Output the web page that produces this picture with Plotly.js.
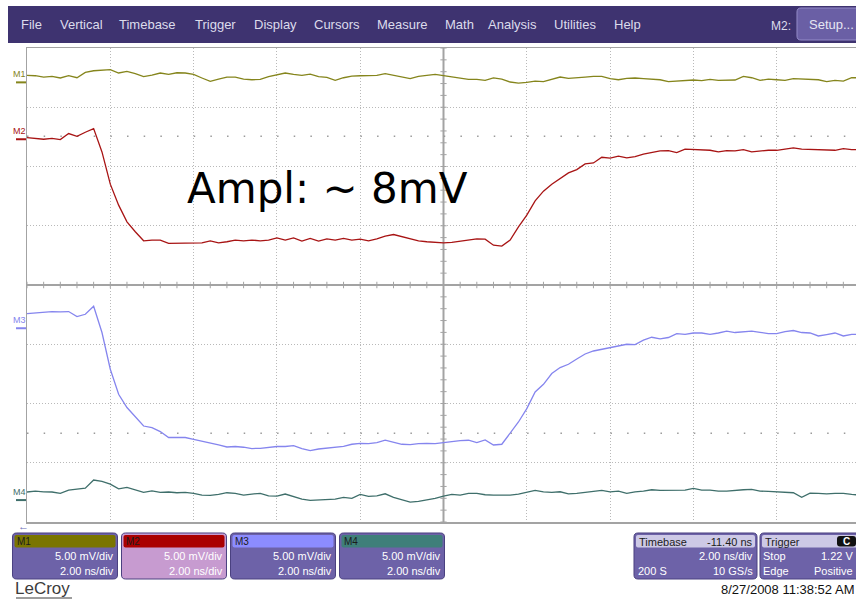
<!DOCTYPE html>
<html>
<head>
<meta charset="utf-8">
<script src="https://cdn.plot.ly/plotly-3.0.1.min.js"></script>
<style>
  html, body { margin: 0; padding: 0; background: #ffffff; }
  #chart { width: 856px; height: 600px; }
</style>
</head>
<body>
<div id="chart"></div>
<script>
// ---------------- DATA ----------------
// sample times, ns from the left edge of the screen (2 ns/div)
const times = [0,0.2,0.4,0.6,0.8,1,1.2,1.4,1.6,1.8,2,2.2,2.4,2.6,2.8,3,3.2,3.4,3.6,3.8,
  4,4.2,4.4,4.6,4.8,5,5.2,5.4,5.6,5.8,6,6.2,6.4,6.6,6.8,7,7.2,7.4,7.6,7.8,
  8,8.2,8.4,8.6,8.8,9,9.2,9.4,9.6,9.8,10,10.2,10.4,10.6,10.8,11,11.2,11.4,11.6,11.8,
  12,12.2,12.4,12.6,12.8,13,13.2,13.4,13.6,13.8,14,14.2,14.4,14.6,14.8,15,15.2,15.4,15.6,15.8,
  16,16.2,16.4,16.6,16.8,17,17.2,17.4,17.6,17.8,18,18.2,18.4,18.6,18.8,19,19.2,19.4,19.6,19.8,20];

// trace values in mV, relative to each trace's offset marker
const m1 = [0.59,0.56,0.45,0.51,0.37,0.56,0.39,0.84,0.98,1.01,
  1.07,0.79,0.93,0.73,0.48,0.62,0.79,0.67,0.81,0.79,
  0.67,0.37,0.08,0.28,0.45,0.45,0.28,0.22,0.25,0.48,
  0.62,0.79,0.67,0.59,0.70,0.48,0.42,0.17,0.39,0.53,
  0.56,0.59,0.59,0.73,0.59,0.45,0.31,0.51,0.56,0.67,
  0.56,0.45,0.31,0.25,0.25,0.17,0.37,0.28,0.03,-0.06,
  0.00,0.11,0.06,0.28,0.45,0.34,0.42,0.45,0.51,0.51,
  0.31,0.22,0.34,0.37,0.31,0.25,0.22,0.06,0.11,0.11,
  0.20,0.14,0.25,0.17,0.17,0.20,0.51,0.39,0.17,0.28,
  0.22,0.17,0.31,0.28,0.31,0.22,0.06,0.17,0.11,0.39,0.39];

const m2 = [0.14,0.06,0.00,0.08,-0.03,0.48,0.25,0.59,0.90,-1.07,
  -3.79,-5.56,-6.97,-7.81,-8.57,-8.51,-8.51,-8.79,-8.79,-8.74,
  -8.74,-8.74,-8.57,-8.74,-8.65,-8.51,-8.57,-8.51,-8.57,-8.51,
  -8.32,-8.51,-8.32,-8.60,-8.37,-8.60,-8.40,-8.51,-8.37,-8.51,
  -8.43,-8.57,-8.40,-8.18,-8.04,-8.23,-8.37,-8.57,-8.65,-8.71,
  -8.74,-8.71,-8.60,-8.54,-8.40,-8.43,-8.94,-9.02,-8.51,-7.39,
  -6.41,-5.20,-4.38,-3.79,-3.32,-2.84,-2.56,-2.08,-2.00,-1.52,
  -1.60,-1.43,-1.57,-1.46,-1.26,-1.10,-0.98,-0.96,-1.12,-0.84,
  -0.87,-0.93,-0.93,-1.07,-0.96,-0.98,-0.87,-1.07,-0.98,-0.93,
  -0.93,-0.84,-0.73,-0.84,-0.87,-0.87,-0.96,-0.93,-0.79,-0.87,-0.87];

const m3 = [1.24,1.29,1.35,1.41,1.38,1.41,0.99,1.18,1.86,-0.36,
  -3.46,-5.57,-6.69,-7.49,-8.25,-8.38,-8.72,-9.22,-9.20,-9.22,
  -9.37,-9.51,-9.65,-9.85,-10.02,-9.98,-10.04,-10.15,-10.13,-10.04,
  -9.98,-9.98,-9.90,-10.15,-10.32,-10.19,-10.10,-10.04,-9.96,-9.79,
  -9.71,-9.73,-9.65,-9.45,-9.62,-9.79,-9.82,-9.73,-9.71,-9.73,
  -9.65,-9.56,-9.48,-9.45,-9.65,-9.43,-9.85,-9.79,-8.84,-7.91,
  -6.78,-5.38,-4.73,-3.82,-3.32,-3.04,-2.59,-2.17,-1.92,-1.77,
  -1.66,-1.46,-1.35,-1.38,-1.01,-0.76,-0.90,-0.78,-0.45,-0.51,
  -0.40,-0.40,-0.51,-0.40,-0.25,-0.36,-0.31,-0.25,-0.34,-0.45,
  -0.45,-0.28,-0.19,-0.36,-0.40,-0.65,-0.53,-0.40,-0.65,-0.51,-0.53];

const m4 = [0.68,0.76,0.70,0.68,0.57,0.84,0.93,1.01,1.69,1.58,
  1.35,0.95,1.07,0.84,0.65,0.78,0.65,0.68,0.62,0.65,
  0.57,0.42,0.40,0.48,0.62,0.57,0.42,0.51,0.57,0.36,
  0.34,0.51,0.28,0.08,-0.03,0.00,0.08,0.08,0.23,0.14,
  0.48,0.31,0.36,0.53,0.23,0.06,-0.17,-0.11,0.00,0.14,
  0.34,0.48,0.42,0.57,0.57,0.45,0.42,0.42,0.42,0.51,
  0.65,0.82,0.70,0.65,0.70,0.53,0.57,0.65,0.76,0.82,
  0.70,0.76,0.57,0.70,0.76,0.87,0.82,0.84,0.84,0.84,
  0.99,0.84,0.84,0.76,0.76,0.84,0.87,0.90,0.76,0.73,
  0.68,0.65,0.62,0.23,0.59,0.57,0.53,0.57,0.57,0.48,0.42];

const channelNames = ['M1','M2','M3','M4'];
const channelValues = [m1, m2, m3, m4];
const offsetDiv = [7.42, 6.46, 3.27, 0.37];      // trace offset, screen divisions
const voltsPerDiv = ['5.00 mV/div','5.00 mV/div','5.00 mV/div','5.00 mV/div'];
const timePerDiv = ['2.00 ns/div','2.00 ns/div','2.00 ns/div','2.00 ns/div'];
const mVperDiv = 5;
const menuItems = ['File','Vertical','Timebase','Trigger','Display','Cursors','Measure','Math','Analysis','Utilities','Help'];
const menuX = [20,59,118,194,253,313,376,444,487,553,613];

// ---------------- STYLE ----------------
const W = 856, H = 600;
const FONT = 'Liberation Sans, Arial, sans-serif';
const traceColors = ['#85851c','#a81414','#8585ee','#3f6f6b'];
const headerColors = ['#7a7500','#aa0000','#8c8cff','#3f7f7a'];
const bodyColors = ['#6d62a8','#c79bd0','#6d62a8','#6d62a8'];
const PX = p => p / W;
const PY = p => 1 - p / H;

const traces = channelValues.map((vals, k) => ({
  type: 'scatter', mode: 'lines', x: times,
  y: vals.map(v => offsetDiv[k] + v / mVperDiv),
  line: { color: traceColors[k], width: 1.3 },
  hoverinfo: 'skip', showlegend: false, name: channelNames[k]
}));

function rr(x0, y0, x1, y1, r) {
  const f = (a, b) => PX(a).toFixed(5) + ',' + PY(b).toFixed(5);
  return 'M' + f(x0 + r, y0) + ' L' + f(x1 - r, y0) + ' Q' + f(x1, y0) + ' ' + f(x1, y0 + r) +
    ' L' + f(x1, y1 - r) + ' Q' + f(x1, y1) + ' ' + f(x1 - r, y1) +
    ' L' + f(x0 + r, y1) + ' Q' + f(x0, y1) + ' ' + f(x0, y1 - r) +
    ' L' + f(x0, y0 + r) + ' Q' + f(x0, y0) + ' ' + f(x0 + r, y0) + ' Z';
}
function ann(text, px, py, size, color, xa, extra) {
  return Object.assign({
    xref: 'paper', yref: 'paper', x: PX(px), y: PY(py), text: text, showarrow: false,
    xanchor: xa || 'left', yanchor: 'middle', borderpad: 0,
    font: { family: FONT, size: size, color: color }
  }, extra || {});
}

const shapes = [];
const annotations = [];

// centre cross-hair and its tick marks
const gridLine = '#a3a3a3';
shapes.push({ type: 'line', xref: 'x', yref: 'y', x0: 0, x1: 20, y0: 4, y1: 4, layer: 'between', line: { color: gridLine, width: 2 } });
shapes.push({ type: 'line', xref: 'x', yref: 'y', x0: 10, x1: 10, y0: 0, y1: 8, layer: 'between', line: { color: gridLine, width: 2 } });
for (let k = 0; k <= 50; k++) {
  const t = k * 0.4;
  shapes.push({ type: 'line', xref: 'x', yref: 'y', x0: t, x1: t, y0: 4 - 0.055, y1: 4 + 0.055, layer: 'between', line: { color: gridLine, width: 1 } });
}
for (let k = 0; k <= 40; k++) {
  const v = k * 0.2;
  shapes.push({ type: 'line', xref: 'x', yref: 'y', x0: 10 - 0.075, x1: 10 + 0.075, y0: v, y1: v, layer: 'between', line: { color: gridLine, width: 1 } });
}
// sparse dotted reference rows
[6.51, 1.5].forEach(v => shapes.push({ type: 'line', xref: 'x', yref: 'y', x0: 0, x1: 20, y0: v, y1: v, layer: 'between', line: { color: '#9a9a9a', width: 1.5, dash: '1.5px,15.17px' } }));

// channel labels and offset markers at the left
channelNames.forEach((n, k) => {
  shapes.push({ type: 'line', xref: 'paper', yref: 'y', x0: PX(16), x1: PX(26), y0: offsetDiv[k], y1: offsetDiv[k], line: { color: traceColors[k], width: 2 } });
  annotations.push({ xref: 'paper', yref: 'y', x: PX(11), y: offsetDiv[k] + 0.135, text: n, showarrow: false, xanchor: 'left', yanchor: 'middle', font: { family: FONT, size: 9, color: traceColors[k] } });
});

// menu bar
shapes.push({ type: 'rect', xref: 'paper', yref: 'paper', x0: PX(8), x1: 1, y0: PY(43), y1: PY(6), fillcolor: '#3e3370', line: { width: 0 } });
shapes.push({ type: 'path', xref: 'paper', yref: 'paper', path: rr(797, 8, 866, 40, 4), fillcolor: '#6a5fa5', line: { color: '#948cc8', width: 1 } });
menuItems.forEach((m, i) => annotations.push(ann(m, menuX[i], 25, 13, '#dcdcec')));
annotations.push(ann('M2:', 770, 26, 12, '#dcdcec'));
annotations.push(ann('Setup...', 808, 25, 13, '#e6e6f2'));

// channel descriptor boxes
const boxX = [12.5, 121.5, 230.5, 339.5];
channelNames.forEach((n, k) => {
  const x0 = boxX[k], x1 = boxX[k] + 105;
  shapes.push({ type: 'path', xref: 'paper', yref: 'paper', path: rr(x0, 533, x1, 579, 4), fillcolor: bodyColors[k], line: { color: '#4a4180', width: 1 } });
  shapes.push({ type: 'path', xref: 'paper', yref: 'paper', path: rr(x0 + 2, 535, x1 - 2, 547.5, 2), fillcolor: headerColors[k], line: { width: 0 } });
  annotations.push(ann(n, x0 + 3, 541.5, 10, '#1c1c1c'));
  annotations.push(ann(voltsPerDiv[k], x1 - 3, 556, 11, '#ffffff', 'right'));
  annotations.push(ann(timePerDiv[k], x1 - 3, 571, 11, '#ffffff', 'right'));
});

// timebase box
shapes.push({ type: 'path', xref: 'paper', yref: 'paper', path: rr(634, 533, 757, 579, 4), fillcolor: '#6d62a8', line: { color: '#4a4180', width: 1 } });
shapes.push({ type: 'path', xref: 'paper', yref: 'paper', path: rr(636, 535, 755, 547.5, 2), fillcolor: '#cdc9e6', line: { width: 0 } });
annotations.push(ann('Timebase', 638, 541.5, 11, '#1c1c1c'));
annotations.push(ann('-11.40 ns', 754, 541.5, 11, '#1c1c1c', 'right'));
annotations.push(ann('2.00 ns/div', 754, 556, 11, '#ffffff', 'right'));
annotations.push(ann('200 S', 637, 571, 11, '#ffffff'));
annotations.push(ann('10 GS/s', 754, 571, 11, '#ffffff', 'right'));

// trigger box
shapes.push({ type: 'path', xref: 'paper', yref: 'paper', path: rr(760, 533, 880, 579, 4), fillcolor: '#6d62a8', line: { color: '#4a4180', width: 1 } });
shapes.push({ type: 'path', xref: 'paper', yref: 'paper', path: rr(762, 535, 878, 547.5, 2), fillcolor: '#cdc9e6', line: { width: 0 } });
shapes.push({ type: 'path', xref: 'paper', yref: 'paper', path: rr(837, 536, 856, 546.5, 3), fillcolor: '#111111', line: { width: 0 } });
annotations.push(ann('Trigger', 764, 541.5, 11, '#1c1c1c'));
annotations.push(ann('C', 842, 541.5, 10, '#ffffff', 'left', { font: { family: FONT, size: 10, color: '#ffffff', weight: 'bold' } }));
annotations.push(ann('Stop', 762, 556, 11, '#ffffff'));
annotations.push(ann('1.22 V', 854, 556, 11, '#ffffff', 'right'));
annotations.push(ann('Edge', 762, 571, 11, '#ffffff'));
annotations.push(ann('Positive', 854, 571, 11, '#ffffff', 'right'));

// footer
annotations.push(ann('\u2190', 17, 526, 11, '#6a6ab8'));
annotations.push(ann('LeCroy', 14, 588.5, 17, '#3c3c3c'));
shapes.push({ type: 'line', xref: 'paper', yref: 'paper', x0: PX(16), x1: PX(72), y0: PY(598), y1: PY(598), line: { color: '#3c3c3c', width: 1.2 } });
annotations.push(ann('8/27/2008 11:38:52 AM', 855, 589.5, 13, '#111111', 'right'));

// hand-written note
annotations.push(ann('Ampl: ~ 8mV', 327, 189, 42, '#000000', 'center', { font: { family: 'DejaVu Sans, sans-serif', size: 42, color: '#000000' } }));

const layout = {
  width: W, height: H,
  margin: { l: 0, r: 0, t: 0, b: 0, pad: 0 },
  paper_bgcolor: '#ffffff', plot_bgcolor: '#ffffff',
  showlegend: false,
  xaxis: {
    domain: [27 / W, 1], range: [0, 19.904], dtick: 2, tick0: 0,
    showgrid: true, gridcolor: '#b9b9b9', gridwidth: 1, griddash: '1px,2px',
    zeroline: false, showticklabels: false, ticks: '',
    showline: true, mirror: true, linecolor: '#a3a3a3', linewidth: 1.5, fixedrange: true
  },
  yaxis: {
    domain: [78 / H, 552 / H], range: [0, 8], dtick: 1, tick0: 0,
    showgrid: true, gridcolor: '#b9b9b9', gridwidth: 1, griddash: '1px,2px',
    zeroline: false, showticklabels: false, ticks: '',
    showline: true, mirror: false, linecolor: '#a3a3a3', linewidth: 1.5, fixedrange: true
  },
  shapes: shapes,
  annotations: annotations
};

Plotly.newPlot('chart', traces, layout, { staticPlot: true, displayModeBar: false });
</script>
</body>
</html>
